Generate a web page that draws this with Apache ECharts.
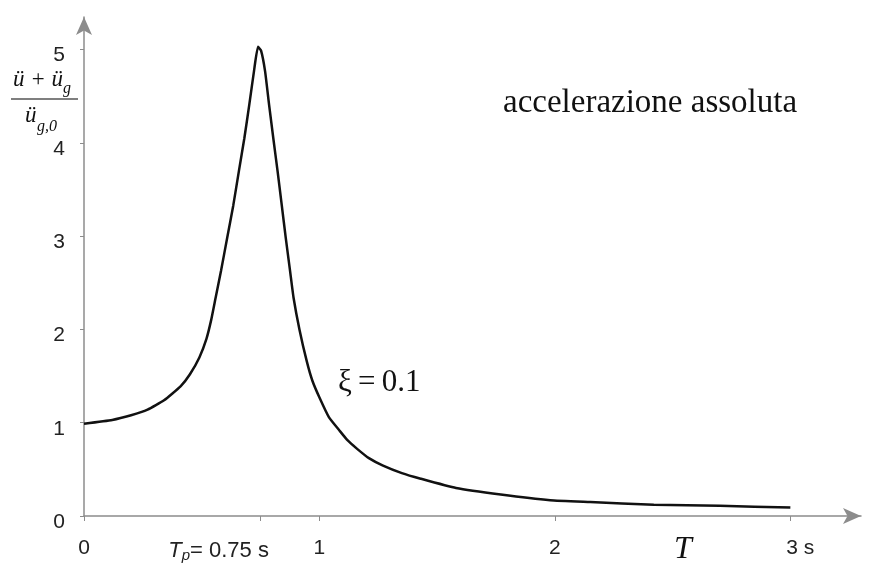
<!DOCTYPE html>
<html>
<head>
<meta charset="utf-8">
<script src="https://cdn.jsdelivr.net/npm/echarts@6/dist/echarts.min.js"></script>
<style>
  html, body { margin: 0; padding: 0; background: #fff; }
  #main { width: 871px; height: 563px; }
</style>
</head>
<body>
<div id="main"></div>
<script>
// periodo T (s) e accelerazione assoluta normalizzata
var periods = [0, 0.12, 0.2, 0.27, 0.34, 0.41, 0.45, 0.49, 0.52, 0.54, 0.559, 0.582, 0.608, 0.634, 0.658,
  0.681, 0.702, 0.722, 0.739, 0.752, 0.769, 0.786, 0.804, 0.822, 0.84, 0.857, 0.875, 0.89, 0.915, 0.946,
  0.97, 1.0, 1.04, 1.087, 1.12, 1.16, 1.21, 1.27, 1.35, 1.43, 1.58, 1.77, 1.98, 2.15, 2.42, 2.7, 3.0];
var accel = [0.99, 1.03, 1.08, 1.14, 1.24, 1.39, 1.52, 1.7, 1.9, 2.1, 2.34, 2.63, 2.98, 3.33, 3.7,
  4.05, 4.41, 4.77, 5.03, 4.99, 4.77, 4.41, 4.05, 3.7, 3.33, 2.98, 2.63, 2.34, 2.0, 1.66,
  1.45, 1.27, 1.06, 0.91, 0.81, 0.72, 0.62, 0.54, 0.46, 0.4, 0.3, 0.23, 0.17, 0.15, 0.12, 0.11, 0.09];
var xTicks = [0, 0.75, 1, 2, 3];
var xLabels = {0: '0', 0.75: '{it|T}{sub|p}{tp|= 0.75 s}', 1: '1', 2: '2', 3: '{ts|3 s}'};
var yTicks = [0, 1, 2, 3, 4, 5];

var points = periods.map(function (t, i) { return [t, accel[i]]; });

var mychart = echarts.init(document.getElementById('main'));
var axisColor = '#8c8c8c';
var sans = 'Liberation Sans';
var option = {
  animation: false,
  grid: { left: 84, right: 10, top: 17, bottom: 45 },
  xAxis: {
    type: 'value',
    min: 0,
    max: 3.3,
    splitLine: { show: false },
    axisLine: { lineStyle: { color: axisColor, width: 1.5 }, symbol: ['none', 'arrow'], symbolSize: [12, 18] },
    axisTick: { customValues: xTicks, length: 5, lineStyle: { color: axisColor } },
    axisLabel: {
      customValues: xTicks,
      margin: 22,
      color: '#222',
      fontFamily: sans,
      fontSize: 21,
      formatter: function (v) { return xLabels[v]; },
      rich: {
        it: { fontFamily: sans, fontStyle: 'italic', fontSize: 22, color: '#222' },
        sub: { fontFamily: sans, fontStyle: 'italic', fontSize: 15, color: '#222', padding: [10, 0, 0, 0] },
        tp: { fontFamily: sans, fontSize: 22, color: '#222', padding: [0, 84, 0, 0] },
        ts: { fontFamily: sans, fontSize: 21, color: '#222', padding: [0, 0, 0, 20] }
      }
    }
  },
  yAxis: {
    type: 'value',
    min: 0,
    max: 5.35,
    splitLine: { show: false },
    axisLine: { lineStyle: { color: axisColor, width: 1.5 }, symbol: ['none', 'arrow'], symbolSize: [12, 18] },
    axisTick: { customValues: yTicks, length: 4, lineStyle: { color: axisColor } },
    axisLabel: {
      customValues: yTicks,
      margin: 19,
      color: '#222',
      fontFamily: sans,
      fontSize: 21,
      verticalAlign: 'top',
      lineHeight: 12
    }
  },
  series: [{
    type: 'line',
    data: points,
    smooth: 0.15,
    showSymbol: false,
    lineStyle: { color: '#111', width: 2.5 }
  }],
  graphic: [
    { type: 'text', style: { text: 'accelerazione assoluta', x: 503, y: 103, font: '33px "Liberation Serif"', fill: '#111', verticalAlign: 'middle' } },
    { type: 'text', style: { text: 'ξ\u2009=\u20090.1', x: 338, y: 383, font: '31px "Liberation Serif"', fill: '#111', verticalAlign: 'middle' } },
    { type: 'text', style: { text: 'T', x: 683, y: 550, font: 'italic 32px "Liberation Serif"', fill: '#111', align: 'center', verticalAlign: 'middle' } },
    { type: 'text', style: { text: 'ü + ü', x: 13, y: 80, font: 'italic 23px "Liberation Serif"', fill: '#111', verticalAlign: 'middle' } },
    { type: 'text', style: { text: 'g', x: 63, y: 89, font: 'italic 16px "Liberation Serif"', fill: '#111', verticalAlign: 'middle' } },
    { type: 'line', shape: { x1: 11, y1: 99, x2: 78, y2: 99 }, style: { stroke: '#555', lineWidth: 1.3 } },
    { type: 'text', style: { text: 'ü', x: 25, y: 116, font: 'italic 23px "Liberation Serif"', fill: '#111', verticalAlign: 'middle' } },
    { type: 'text', style: { text: 'g,0', x: 37, y: 127, font: 'italic 16px "Liberation Serif"', fill: '#111', verticalAlign: 'middle' } }
  ]
};
mychart.setOption(option);
</script>
</body>
</html>
